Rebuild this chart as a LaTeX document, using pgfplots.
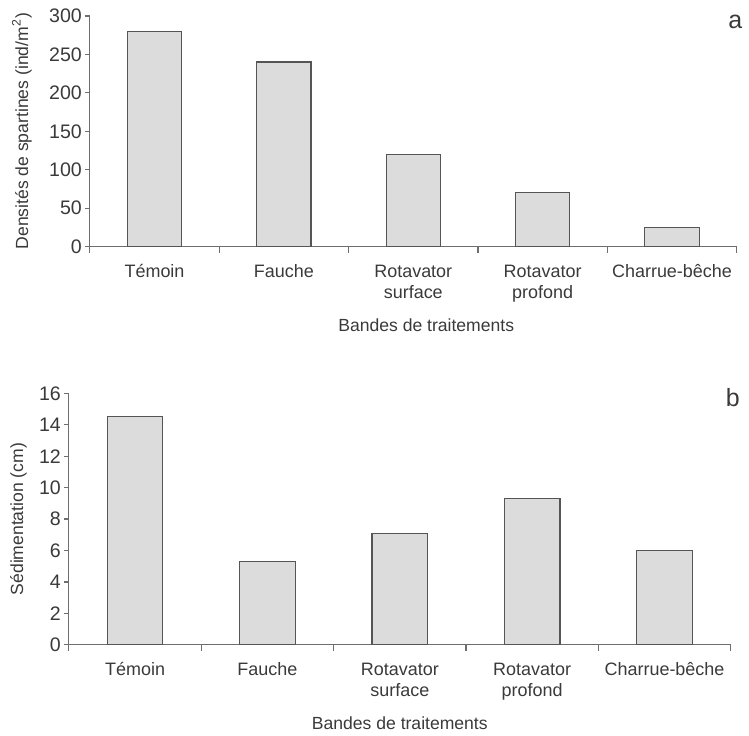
\documentclass[border=0pt]{standalone}
\usepackage{fontspec}
\setmainfont{Liberation Sans}
\usepackage{pgfplots}
\pgfplotsset{compat=1.18}
\definecolor{axgray}{HTML}{6E6E6E}
\definecolor{barfill}{HTML}{DCDCDC}
\definecolor{baredge}{HTML}{555555}
\definecolor{txt}{HTML}{3A3A3A}
\newcommand{\st}{\rule{0pt}{8pt}}
\pgfplotsset{
  mybars/.style={
    scale only axis,
    axis lines=left,
    axis line style={-, draw=axgray, line width=0.6pt},
    xmin=-0.5, xmax=4.5, ymin=0,
    xtick={0,1,2,3,4},
    xticklabels={\st Témoin, \st Fauche, {\st Rotavator\\surface}, {\st Rotavator\\profond}, \st Charrue-bêche},
    minor xtick={-0.5,0.5,1.5,2.5,3.5,4.5},
    major x tick style={draw=none},
    minor x tick style={draw=axgray, line width=0.6pt},
    minor tick length=3pt,
    major tick length=2.5pt,
    tick align=outside,
    ytick style={draw=axgray, line width=0.6pt},
    xticklabel style={align=center, anchor=north, yshift=-1.5pt, font=\fontsize{9}{10.5}\selectfont, text=txt},
    yticklabel style={font=\fontsize{9.8}{11}\selectfont, text=txt, xshift=2pt},
    /pgf/number format/assume math mode=true,
    label style={font=\fontsize{8.8}{11}\selectfont, text=txt},
    ybar, bar width=0.42,
    clip=false,
  }
}
\begin{document}
\begin{tikzpicture}
\path (0pt,0pt) rectangle (374.5pt,368pt);
\begin{axis}[mybars,
  at={(45pt,244.5pt)}, anchor=south west,
  width=324pt, height=115.5pt,
  ymax=300, ytick={0,50,...,300},
  xlabel={Bandes de traitements},
  xlabel style={at={(axis description cs:0.52,-0.342)}, anchor=center},
  ylabel={Densités de spartines (ind/m\textsuperscript{2})},
  ylabel style={at={(axis description cs:-0.105,0.5)}, anchor=center},
]
\addplot[fill=barfill, draw=baredge, line width=0.6pt] coordinates {(0,280) (1,240) (2,120) (3,70) (4,25)};
\node[font=\fontsize{12.5}{14}\selectfont, text=txt] at (axis description cs:0.998,0.975) {a};
\end{axis}
\begin{axis}[mybars,
  at={(34.5pt,45pt)}, anchor=south west,
  width=331.5pt, height=126pt,
  ymax=16, ytick={0,2,...,16},
  xlabel={Bandes de traitements},
  xlabel style={at={(axis description cs:0.5,-0.31)}, anchor=center},
  ylabel={Sédimentation (cm)},
  ylabel style={at={(axis description cs:-0.076,0.5)}, anchor=center},
]
\addplot[fill=barfill, draw=baredge, line width=0.6pt] coordinates {(0,14.5) (1,5.3) (2,7.1) (3,9.3) (4,6)};
\node[font=\fontsize{12.5}{14}\selectfont, text=txt] at (axis description cs:1.003,0.985) {b};
\end{axis}
\end{tikzpicture}
\end{document}
